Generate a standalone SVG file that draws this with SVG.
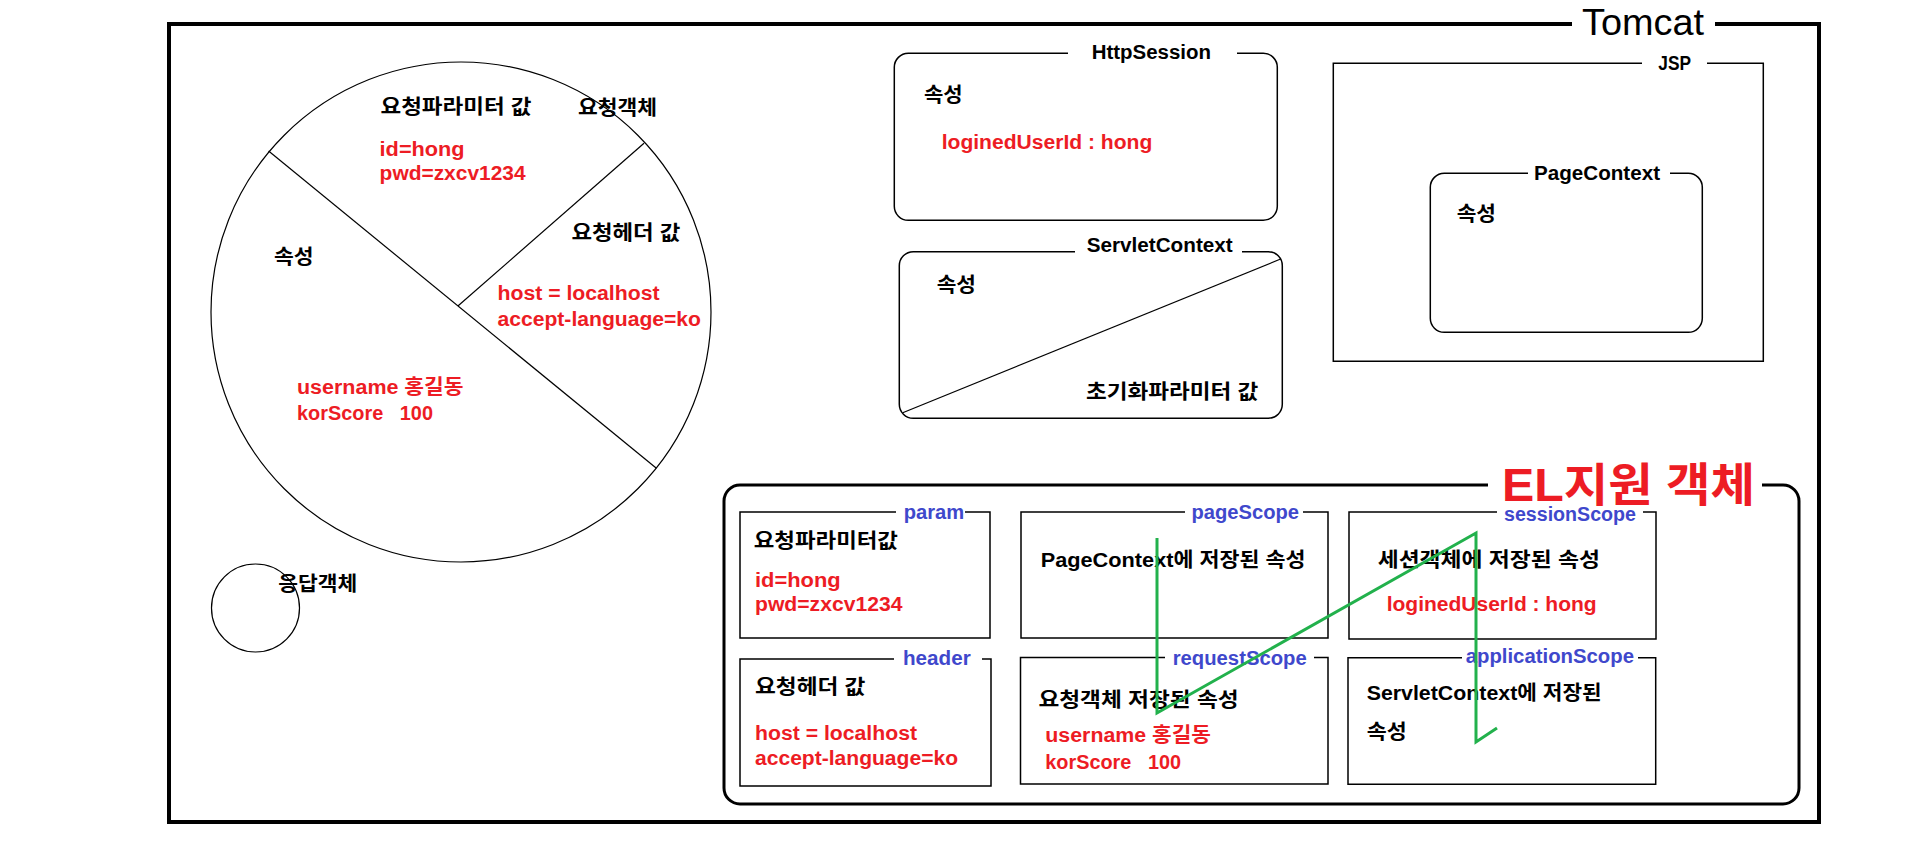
<svg xmlns="http://www.w3.org/2000/svg" width="1905" height="861" viewBox="0 0 1905 861">
<style>
text{font-family:"Liberation Sans","Noto Sans CJK KR",sans-serif;font-weight:bold;font-size:20px;fill:#000}
.r{fill:#ED1C24}
.b{fill:#3F48CC}
.thin{fill:none;stroke:#000;stroke-width:1.2}
.box{fill:none;stroke:#000;stroke-width:1.5}
.gap{fill:#fff;stroke:none}
.green{fill:none;stroke:#22B14C;stroke-width:3;stroke-linejoin:miter}
</style>
<rect width="1905" height="861" fill="#fff"/>

<g id="tomcat">
  <rect x="169" y="24" width="1650" height="798" fill="none" stroke="#000" stroke-width="4"/>
  <rect class="gap" x="1572" y="18" width="143" height="12"/>
  <text x="1582" y="35" style="font-size:36px;font-weight:normal" textLength="122" lengthAdjust="spacingAndGlyphs">Tomcat</text>
</g>

<g id="request-object">
  <circle class="thin" cx="461" cy="312" r="250"/>
  <line class="thin" x1="268.6" y1="151" x2="656.4" y2="468.3"/>
  <line class="thin" x1="644" y1="143.3" x2="457.9" y2="306"/>
  <text x="380.5" y="114" textLength="151" lengthAdjust="spacingAndGlyphs">요청파라미터 값</text>
  <text x="578" y="115" textLength="79" lengthAdjust="spacingAndGlyphs">요청객체</text>
  <text class="r" x="379.6" y="156" textLength="85" lengthAdjust="spacingAndGlyphs">id=hong</text>
  <text class="r" x="379.6" y="180" textLength="146" lengthAdjust="spacingAndGlyphs">pwd=zxcv1234</text>
  <text x="571.4" y="240" textLength="109" lengthAdjust="spacingAndGlyphs">요청헤더 값</text>
  <text class="r" x="497.5" y="300" textLength="162" lengthAdjust="spacingAndGlyphs" xml:space="preserve">host = localhost</text>
  <text class="r" x="497.5" y="326" textLength="203.5" lengthAdjust="spacingAndGlyphs">accept-language=ko</text>
  <text x="274" y="264" textLength="39.6" lengthAdjust="spacingAndGlyphs">속성</text>
  <text class="r" x="297" y="394" textLength="166.6" lengthAdjust="spacingAndGlyphs">username 홍길동</text>
  <text class="r" x="297" y="420" textLength="136" lengthAdjust="spacingAndGlyphs" xml:space="preserve">korScore   100</text>
</g>

<g id="response-object">
  <circle class="thin" cx="255.5" cy="608" r="44"/>
  <text x="278.3" y="591" textLength="79" lengthAdjust="spacingAndGlyphs">응답객체</text>
</g>

<g id="http-session">
  <rect class="box" x="894.3" y="53.3" width="383" height="167" rx="14"/>
  <rect class="gap" x="1068" y="48" width="169" height="10"/>
  <text x="1091.7" y="59" textLength="119.3" lengthAdjust="spacingAndGlyphs">HttpSession</text>
  <text x="924" y="102" textLength="38.7" lengthAdjust="spacingAndGlyphs">속성</text>
  <text class="r" x="941.7" y="149" textLength="210.6" lengthAdjust="spacingAndGlyphs" xml:space="preserve">loginedUserId : hong</text>
</g>

<g id="servlet-context">
  <rect class="box" x="899.3" y="251.7" width="383" height="166.6" rx="14"/>
  <rect class="gap" x="1075" y="246" width="167" height="10"/>
  <line class="thin" x1="902.7" y1="412.7" x2="1280" y2="259.3"/>
  <text x="1086.7" y="252" textLength="146" lengthAdjust="spacingAndGlyphs">ServletContext</text>
  <text x="936.7" y="292" textLength="39.3" lengthAdjust="spacingAndGlyphs">속성</text>
  <text x="1086" y="399" textLength="172.3" lengthAdjust="spacingAndGlyphs">초기화파라미터 값</text>
</g>

<g id="jsp">
  <path class="box" d="M1707,63.3 H1763.3 V361.3 H1333.3 V63.3 H1642"/>
  <text x="1658.3" y="70" textLength="32.7" lengthAdjust="spacingAndGlyphs">JSP</text>
</g>

<g id="page-context">
  <rect class="box" x="1430.3" y="173.3" width="272" height="159" rx="14"/>
  <rect class="gap" x="1528" y="168" width="142" height="10"/>
  <text x="1534" y="180" textLength="126" lengthAdjust="spacingAndGlyphs">PageContext</text>
  <text x="1456.7" y="221" textLength="39.3" lengthAdjust="spacingAndGlyphs">속성</text>
</g>

<g id="el-objects">
  <rect x="724" y="485" width="1075" height="319" rx="16" fill="none" stroke="#000" stroke-width="3"/>
  <rect class="gap" x="1488" y="478" width="274" height="14"/>
  <text class="r" x="1502" y="501" style="font-size:46px" textLength="253" lengthAdjust="spacingAndGlyphs">EL지원 객체</text>
</g>

<g id="param">
  <path class="box" d="M965,512 H990 V638 H740 V512 H896"/>
  <text class="b" x="903.7" y="519" textLength="60.5" lengthAdjust="spacingAndGlyphs">param</text>
  <text x="753.7" y="548" textLength="144.3" lengthAdjust="spacingAndGlyphs">요청파라미터값</text>
  <text class="r" x="755" y="587" textLength="85.6" lengthAdjust="spacingAndGlyphs">id=hong</text>
  <text class="r" x="755" y="611" textLength="147.5" lengthAdjust="spacingAndGlyphs">pwd=zxcv1234</text>
</g>

<g id="pageScope">
  <path class="box" d="M1303,512 H1328 V638 H1021 V512 H1185"/>
  <text class="b" x="1191.5" y="519" textLength="107.5" lengthAdjust="spacingAndGlyphs">pageScope</text>
  <text x="1040.7" y="567" textLength="264.8" lengthAdjust="spacingAndGlyphs">PageContext에 저장된 속성</text>
</g>

<g id="sessionScope">
  <path class="box" d="M1643,512 H1656 V639 H1349 V512 H1497"/>
  <text class="b" x="1504" y="521" textLength="132" lengthAdjust="spacingAndGlyphs">sessionScope</text>
  <text x="1377.7" y="567" textLength="222.3" lengthAdjust="spacingAndGlyphs">세션객체에 저장된 속성</text>
  <text class="r" x="1386.7" y="611" textLength="210" lengthAdjust="spacingAndGlyphs" xml:space="preserve">loginedUserId : hong</text>
</g>

<g id="header">
  <path class="box" d="M982,659 H991 V786 H740 V659 H894"/>
  <text class="b" x="903" y="665" textLength="67.7" lengthAdjust="spacingAndGlyphs">header</text>
  <text x="755" y="694" textLength="110.4" lengthAdjust="spacingAndGlyphs">요청헤더 값</text>
  <text class="r" x="755" y="740" textLength="162" lengthAdjust="spacingAndGlyphs" xml:space="preserve">host = localhost</text>
  <text class="r" x="755" y="765" textLength="203" lengthAdjust="spacingAndGlyphs">accept-language=ko</text>
</g>

<g id="requestScope">
  <path class="box" d="M1314,657.5 H1328 V784 H1020.5 V657.5 H1165"/>
  <text class="b" x="1172.7" y="665" textLength="134" lengthAdjust="spacingAndGlyphs">requestScope</text>
  <text x="1038.4" y="707" textLength="200.2" lengthAdjust="spacingAndGlyphs">요청객체 저장된 속성</text>
  <text class="r" x="1045.3" y="742" textLength="165.7" lengthAdjust="spacingAndGlyphs">username 홍길동</text>
  <text class="r" x="1045.3" y="769" textLength="135.7" lengthAdjust="spacingAndGlyphs" xml:space="preserve">korScore   100</text>
</g>

<g id="applicationScope">
  <path class="box" d="M1638,657.7 H1655.7 V784.3 H1348 V657.7 H1462"/>
  <text class="b" x="1465.7" y="663" textLength="168.3" lengthAdjust="spacingAndGlyphs">applicationScope</text>
  <text x="1366.7" y="700" textLength="235" lengthAdjust="spacingAndGlyphs">ServletContext에 저장된</text>
  <text x="1366.7" y="739" textLength="40" lengthAdjust="spacingAndGlyphs">속성</text>
</g>

<g id="connectors">
  <polyline class="green" points="1157,538 1157,713 1476,533 1476,742 1497,728"/>
</g>
</svg>
